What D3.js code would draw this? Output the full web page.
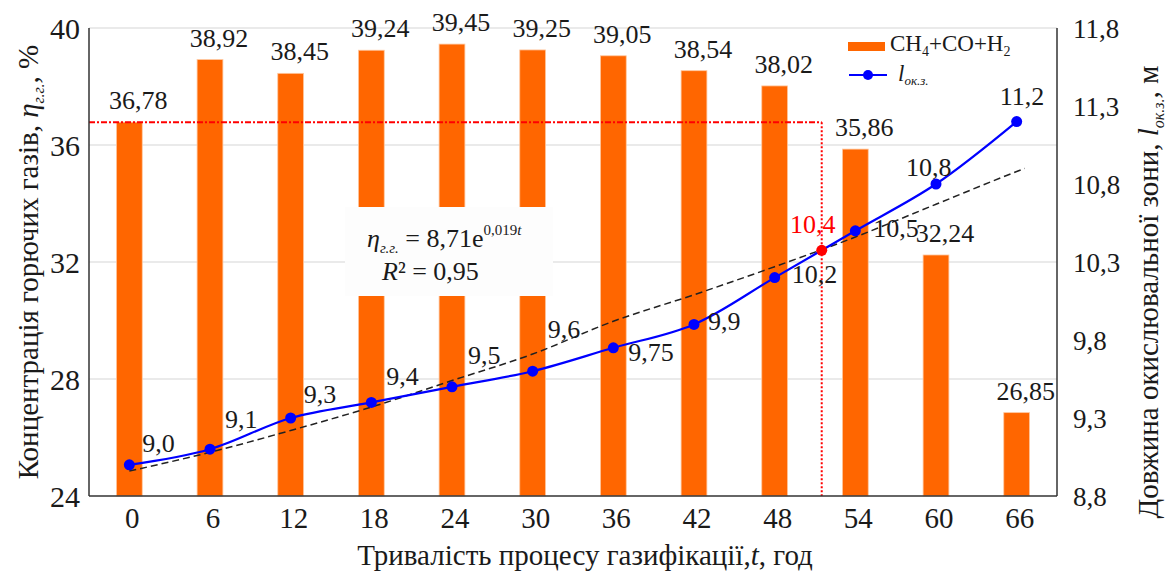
<!DOCTYPE html>
<html lang="uk">
<head>
<meta charset="utf-8">
<script src="https://cdn.jsdelivr.net/npm/d3@7"></script>
</head>
<body style="margin:0;background:#fff">
<svg id="chart" width="1166" height="580"></svg>
<script>
// ---- data ----
const categories = [0, 6, 12, 18, 24, 30, 36, 42, 48, 54, 60, 66];
const gasValues = [36.78, 38.92, 38.45, 39.24, 39.45, 39.25, 39.05, 38.54, 38.02, 35.86, 32.24, 26.85];
const gasLabels = ["36,78", "38,92", "38,45", "39,24", "39,45", "39,25", "39,05", "38,54", "38,02", "35,86", "32,24", "26,85"];
const lengthValues = [9.0, 9.1, 9.3, 9.4, 9.5, 9.6, 9.75, 9.9, 10.2, 10.5, 10.8, 11.2];
const lengthLabels = ["9,0", "9,1", "9,3", "9,4", "9,5", "9,6", "9,75", "9,9", "10,2", "10,5", "10,8", "11,2"];
const trendT = [0, 6, 12, 18, 24, 30, 36, 42, 48, 54, 60, 66, 66.6];
const trendL = [8.96, 9.08, 9.22, 9.37, 9.54, 9.71, 9.92, 10.09, 10.27, 10.46, 10.67, 10.88, 10.90];
const markerT = 51.5;
const markerL = 10.375;
const markerLabel = "10,4";
const leftTicks = [24, 28, 32, 36, 40];
const leftTickLabels = ["24", "28", "32", "36", "40"];
const rightTicks = [8.8, 9.3, 9.8, 10.3, 10.8, 11.3, 11.8];
const rightTickLabels = ["8,8", "9,3", "9,8", "10,3", "10,8", "11,3", "11,8"];

// ---- layout ----
const W = 1166, H = 580;
const m = { left: 89, right: 109, top: 28, bottom: 84 };
const x0 = m.left, x1 = W - m.right, y0 = H - m.bottom, y1 = m.top;
const svg = d3.select("#chart");
const FONT = "'Liberation Serif', Tinos, 'Times New Roman', serif";

const xBand = d3.scaleBand().domain(categories).range([x0, x1]).paddingInner(0.68).paddingOuter(0.34);
const bw = xBand.bandwidth();
const xLin = d3.scaleLinear().domain([0, 66]).range([xBand(0) + bw / 2, xBand(66) + bw / 2]);
const yL = d3.scaleLinear().domain([24, 40]).range([y0, y1]);
const yR = d3.scaleLinear().domain([8.8, 11.8]).range([y0, y1]);

const orange = "#FF6600";
const blue = "#0000FF";
const ink = "#1a1a1a";

// gridlines
svg.append("g").selectAll("line").data(leftTicks.slice(1)).join("line")
  .attr("x1", x0).attr("x2", x1)
  .attr("y1", d => yL(d)).attr("y2", d => yL(d))
  .attr("stroke", "#e3e3e3").attr("stroke-width", 1.3);

// bars
svg.append("g").selectAll("rect").data(categories).join("rect")
  .attr("x", d => xBand(d))
  .attr("y", (d, i) => yL(gasValues[i]))
  .attr("width", bw)
  .attr("height", (d, i) => y0 - yL(gasValues[i]))
  .attr("fill", orange)
  .attr("stroke", "#FFC8A0").attr("stroke-width", 0.8);

// bar labels
svg.append("g").selectAll("text").data(categories).join("text")
  .attr("x", d => xBand(d) + bw / 2 + 9)
  .attr("y", (d, i) => yL(gasValues[i]) - 13)
  .attr("text-anchor", "middle")
  .attr("font-size", 26).attr("fill", ink)
  .text((d, i) => gasLabels[i]);

// red reference lines
const mx = xLin(markerT);
svg.append("line")
  .attr("x1", x0).attr("x2", mx)
  .attr("y1", yL(gasValues[0])).attr("y2", yL(gasValues[0]))
  .attr("stroke", "#FF0000").attr("stroke-width", 2)
  .attr("stroke-dasharray", "6,2,2,2");
svg.append("line")
  .attr("x1", mx).attr("x2", mx)
  .attr("y1", yL(gasValues[0])).attr("y2", y0)
  .attr("stroke", "#FF0000").attr("stroke-width", 2)
  .attr("stroke-dasharray", "2,2");

// equation box
const eq = svg.append("g");
eq.append("rect").attr("x", 345).attr("y", 207).attr("width", 208).attr("height", 89).attr("fill", "#fdfdfd");
const eqT = eq.append("text").attr("x", 367).attr("y", 247).attr("font-size", 26).attr("fill", ink);
eqT.append("tspan").attr("font-style", "italic").text("η");
eqT.append("tspan").attr("font-style", "italic").attr("font-size", 15).attr("dy", 6).text("г.г.");
eqT.append("tspan").attr("dy", -6).text(" = 8,71e");
eqT.append("tspan").attr("font-size", 15).attr("dy", -12).text("0,019");
eqT.append("tspan").attr("font-size", 15).attr("font-style", "italic").text("t");
const eqR = eq.append("text").attr("x", 382).attr("y", 280).attr("font-size", 26).attr("fill", ink);
eqR.append("tspan").attr("font-style", "italic").text("R");
eqR.append("tspan").text("² = 0,95");

// trend (dashed)
svg.append("path")
  .datum(trendT.map((t, i) => [t, trendL[i]]))
  .attr("d", d3.line().x(d => xLin(d[0])).y(d => yR(d[1])).curve(d3.curveMonotoneX))
  .attr("fill", "none").attr("stroke", "#222").attr("stroke-width", 1.5)
  .attr("stroke-dasharray", "7,4");

// blue line
svg.append("path")
  .datum(categories.map((t, i) => [t, lengthValues[i]]))
  .attr("d", d3.line().x(d => xLin(d[0])).y(d => yR(d[1])).curve(d3.curveCatmullRom.alpha(0.5)))
  .attr("fill", "none").attr("stroke", blue).attr("stroke-width", 2.2);
svg.append("g").selectAll("circle").data(categories).join("circle")
  .attr("cx", d => xLin(d)).attr("cy", (d, i) => yR(lengthValues[i]))
  .attr("r", 5.5).attr("fill", blue);

// line labels (offsets relative to points)
const lblDx = [13, 15, 13, 15, 16, 15, 15, 14, 17, 18, -30, -17];
const lblDy = [-13, -21, -15, -17, -23, -33, 13, 6, 5, 6, -8, -17];
svg.append("g").selectAll("text").data(categories).join("text")
  .attr("x", (d, i) => xLin(d) + lblDx[i])
  .attr("y", (d, i) => yR(lengthValues[i]) + lblDy[i])
  .attr("font-size", 26).attr("fill", ink)
  .text((d, i) => lengthLabels[i]);

// red marker
svg.append("circle").attr("cx", mx).attr("cy", yR(markerL)).attr("r", 5.5).attr("fill", "#FF0000");
svg.append("text").attr("x", mx - 9).attr("y", yR(markerL) - 17)
  .attr("text-anchor", "middle").attr("font-size", 26).attr("fill", "#FF0000").text(markerLabel);

// axes lines
const axCol = "#333";
svg.append("line").attr("x1", x0).attr("x2", x0).attr("y1", y1).attr("y2", y0).attr("stroke", axCol).attr("stroke-width", 1.5);
svg.append("line").attr("x1", x1).attr("x2", x1).attr("y1", y1).attr("y2", y0).attr("stroke", axCol).attr("stroke-width", 1.5);
svg.append("line").attr("x1", x0).attr("x2", x1).attr("y1", y0).attr("y2", y0).attr("stroke", axCol).attr("stroke-width", 1.5);

// left ticks
const axL = d3.axisLeft(yL).tickValues(leftTicks).tickSize(0).tickPadding(9)
  .tickFormat((d, i) => leftTickLabels[i]);
svg.append("g").attr("transform", `translate(${x0},0)`).call(axL)
  .call(g => g.select(".domain").remove())
  .selectAll("text").attr("font-size", 30).attr("fill", ink).attr("dy", "0.35em");

// right ticks
const axR = d3.axisRight(yR).tickValues(rightTicks).tickSize(0).tickPadding(16)
  .tickFormat((d, i) => rightTickLabels[i]);
svg.append("g").attr("transform", `translate(${x1},0)`).call(axR)
  .call(g => g.select(".domain").remove())
  .selectAll("text").attr("font-size", 27).attr("fill", ink).attr("dy", "0.35em");

// bottom ticks
const axB = d3.axisBottom(xBand).tickSize(0).tickPadding(10);
svg.append("g").attr("transform", `translate(3,${y0})`).call(axB)
  .call(g => g.select(".domain").remove())
  .selectAll("text").attr("font-size", 29).attr("fill", ink).attr("dy", "0.75em");

// x title
const xt = svg.append("text").attr("x", 585).attr("y", 565).attr("text-anchor", "middle")
  .attr("font-size", 29).attr("fill", ink);
xt.append("tspan").text("Тривалість процесу газифікації,");
xt.append("tspan").attr("font-style", "italic").text("t");
xt.append("tspan").text(", год");

// left title
const lt = svg.append("text").attr("transform", "translate(38,262) rotate(-90)")
  .attr("text-anchor", "middle").attr("font-size", 29).attr("fill", ink);
lt.append("tspan").text("Концентрація горючих газів, ");
lt.append("tspan").attr("font-style", "italic").text("η");
lt.append("tspan").attr("font-style", "italic").attr("font-size", 16).attr("dy", 6).text("г.г.");
lt.append("tspan").attr("dy", -6).text(", %");

// right title
const rt = svg.append("text").attr("transform", "translate(1158,292) rotate(-90)")
  .attr("text-anchor", "middle").attr("font-size", 29).attr("fill", ink);
rt.append("tspan").text("Довжина окислювальної зони, ");
rt.append("tspan").attr("font-style", "italic").text("l");
rt.append("tspan").attr("font-style", "italic").attr("font-size", 16).attr("dy", 6).text("ок.з.");
rt.append("tspan").attr("dy", -6).text(", м");

// legend
const lg = svg.append("g");
lg.append("rect").attr("x", 848).attr("y", 42).attr("width", 37).attr("height", 9).attr("fill", orange);
const lt1 = lg.append("text").attr("x", 890).attr("y", 51).attr("font-size", 23).attr("fill", ink);
lt1.append("tspan").text("CH");
lt1.append("tspan").attr("font-size", 14).attr("dy", 5).text("4");
lt1.append("tspan").attr("dy", -5).text("+CO+H");
lt1.append("tspan").attr("font-size", 14).attr("dy", 5).text("2");
lg.append("line").attr("x1", 849).attr("x2", 887).attr("y1", 75).attr("y2", 75).attr("stroke", blue).attr("stroke-width", 2.2);
lg.append("circle").attr("cx", 868).attr("cy", 75).attr("r", 5).attr("fill", blue);
const lt2 = lg.append("text").attr("x", 898).attr("y", 81).attr("font-size", 23).attr("fill", ink);
lt2.append("tspan").attr("font-style", "italic").text("l");
lt2.append("tspan").attr("font-style", "italic").attr("font-size", 13).attr("dy", 4).text("ок.з.");

// serif font applied as inline style on every text, tspan and group
svg.selectAll("g").attr("font-family", null).style("font-family", FONT);
svg.selectAll("text").style("font-family", FONT);
svg.selectAll("tspan").style("font-family", FONT);
</script>
</body>
</html>
